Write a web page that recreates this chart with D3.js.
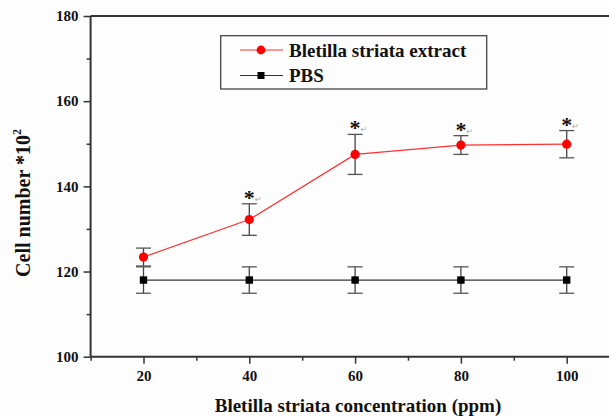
<!DOCTYPE html>
<html>
<head>
<meta charset="utf-8">
<script src="https://cdn.jsdelivr.net/npm/d3@7"></script>
<style>
  html, body { margin: 0; padding: 0; background: #fdfdfd; }
  svg { display: block; }
</style>
</head>
<body>
<script>
// ---- data ----
const concentrations = [20, 40, 60, 80, 100];
const extractMean = [123.4, 132.2, 147.5, 149.7, 149.9];
const extractErr  = [2.1, 3.7, 4.7, 2.2, 3.2];
const pbsMean = [118.0, 118.0, 118.0, 118.0, 118.0];
const pbsErr  = [3.1, 3.1, 3.1, 3.1, 3.1];
const significant = [false, true, true, true, true];
const yMajorTicks = [100, 120, 140, 160, 180];
const yMinorTicks = [110, 130, 150, 170];
const xMajorTicks = [20, 40, 60, 80, 100];
const xMinorTicks = [10, 30, 50, 70, 90, 110];
const seriesNames = ["Bletilla striata extract", "PBS"];

const W = 609, H = 416;
const svg = d3.select("body").append("svg").attr("width", W).attr("height", H);

const x = d3.scaleLinear().domain([10, 110]).range([90.6, 619.6]);
const y = d3.scaleLinear().domain([100, 180]).range([356.7, 16]);

const axisColor = "#333";
const serif = "'Liberation Serif', 'Times New Roman', serif";

// axes
const gy = svg.append("g").attr("transform", `translate(${x(10)},0)`);
gy.call(d3.axisLeft(y).tickValues(yMajorTicks).tickSize(7).tickPadding(5).tickFormat(d3.format("d")));
const gyMinor = svg.append("g").attr("transform", `translate(${x(10)},0)`);
gyMinor.call(d3.axisLeft(y).tickValues(yMinorTicks).tickSize(4).tickFormat(""));

const gx = svg.append("g").attr("transform", `translate(0,${y(100)})`);
gx.call(d3.axisBottom(x).tickValues(xMajorTicks).tickSize(7).tickPadding(7).tickFormat(d3.format("d")));
const gxMinor = svg.append("g").attr("transform", `translate(0,${y(100)})`);
gxMinor.call(d3.axisBottom(x).tickValues(xMinorTicks).tickSize(4).tickFormat(""));

[gy, gyMinor, gx, gxMinor].forEach(g => {
  g.select(".domain").remove();
  g.selectAll(".tick line").attr("stroke", axisColor).attr("stroke-width", 1.5);
  g.selectAll(".tick text").attr("fill", "#111").style("font-family", serif)
    .style("font-weight", "bold").style("font-size", "15px");
});

// axis lines (left, bottom, top)
svg.append("line").attr("x1", x(10)).attr("x2", x(10)).attr("y1", y(180)).attr("y2", y(100))
  .attr("stroke", axisColor).attr("stroke-width", 2);
svg.append("line").attr("x1", x(10)).attr("x2", W).attr("y1", y(100)).attr("y2", y(100))
  .attr("stroke", axisColor).attr("stroke-width", 2);
svg.append("line").attr("x1", x(10)).attr("x2", W).attr("y1", y(180)).attr("y2", y(180))
  .attr("stroke", axisColor).attr("stroke-width", 2);

// axis titles
svg.append("text").attr("x", 358).attr("y", 412).attr("text-anchor", "middle")
  .style("font-family", serif).style("font-weight", "bold").style("font-size", "19px").attr("fill", "#111")
  .text("Bletilla striata concentration (ppm)");

const yt = svg.append("text").attr("transform", "translate(30,203) rotate(-90)").attr("text-anchor", "middle")
  .style("font-weight", "bold").style("font-family", serif).attr("fill", "#111");
yt.append("tspan").style("font-size", "20px").text("Cell number *10");
yt.append("tspan").style("font-size", "12px").attr("dy", -9).text("2");

// error bars
function errorBars(means, errs) {
  const g = svg.append("g");
  concentrations.forEach((c, i) => {
    const cx = x(c), top = y(means[i] + errs[i]), bot = y(means[i] - errs[i]);
    g.append("line").attr("x1", cx).attr("x2", cx).attr("y1", top).attr("y2", bot)
      .attr("stroke", "#444").attr("stroke-width", 1.3);
    [top, bot].forEach(yy => g.append("line").attr("x1", cx - 7.5).attr("x2", cx + 7.5)
      .attr("y1", yy).attr("y2", yy).attr("stroke", "#555").attr("stroke-width", 1.3));
  });
}
errorBars(pbsMean, pbsErr);
errorBars(extractMean, extractErr);

// lines
const line = d3.line().x(d => x(d[0])).y(d => y(d[1]));
svg.append("path").datum(concentrations.map((c, i) => [c, pbsMean[i]]))
  .attr("d", line).attr("fill", "none").attr("stroke", "#333").attr("stroke-width", 1.2);
svg.append("path").datum(concentrations.map((c, i) => [c, extractMean[i]]))
  .attr("d", line).attr("fill", "none").attr("stroke", "#ff3030").attr("stroke-width", 1.2);

// markers
svg.append("g").selectAll("rect").data(concentrations).join("rect")
  .attr("x", (c) => x(c) - 3.7).attr("y", (c, i) => y(pbsMean[i]) - 3.7)
  .attr("width", 7.4).attr("height", 7.4).attr("fill", "#000");
svg.append("g").selectAll("circle").data(concentrations).join("circle")
  .attr("cx", c => x(c)).attr("cy", (c, i) => y(extractMean[i])).attr("r", 4.6).attr("fill", "#ff0000");

// significance asterisks
concentrations.forEach((c, i) => {
  if (!significant[i]) return;
  const top = y(extractMean[i] + extractErr[i]);
  svg.append("text").attr("x", x(c)).attr("y", top + 1).attr("text-anchor", "middle")
    .style("font-family", serif).style("font-weight", "bold").style("font-size", "22px").attr("fill", "#111")
    .text("*");
  svg.append("text").attr("x", x(c) + 9).attr("y", top - 2).attr("text-anchor", "middle")
    .style("font-family", "'DejaVu Sans', sans-serif").style("font-size", "8px").attr("fill", "#aaa")
    .text("\u21B5");
});

// legend
const lg = svg.append("g");
lg.append("rect").attr("x", 220.7).attr("y", 35.7).attr("width", 266).attr("height", 53.3)
  .attr("fill", "#fdfdfd").attr("stroke", "#444").attr("stroke-width", 1.3);
const legendRows = [
  { name: seriesNames[0], color: "#ff3030", marker: "circle", cy: 50 },
  { name: seriesNames[1], color: "#333", marker: "rect", cy: 75.5 }
];
legendRows.forEach(r => {
  lg.append("line").attr("x1", 240).attr("x2", 283).attr("y1", r.cy).attr("y2", r.cy)
    .attr("stroke", r.color).attr("stroke-width", 1.2);
  if (r.marker === "circle") {
    lg.append("circle").attr("cx", 261).attr("cy", r.cy).attr("r", 4.4).attr("fill", "#ff0000");
  } else {
    lg.append("rect").attr("x", 257.5).attr("y", r.cy - 3.5).attr("width", 7).attr("height", 7).attr("fill", "#000");
  }
  lg.append("text").attr("x", 289).attr("y", r.cy + 6.5).style("font-family", serif)
    .style("font-weight", "bold").style("font-size", "19px").attr("fill", "#111").text(r.name);
});
</script>
</body>
</html>
